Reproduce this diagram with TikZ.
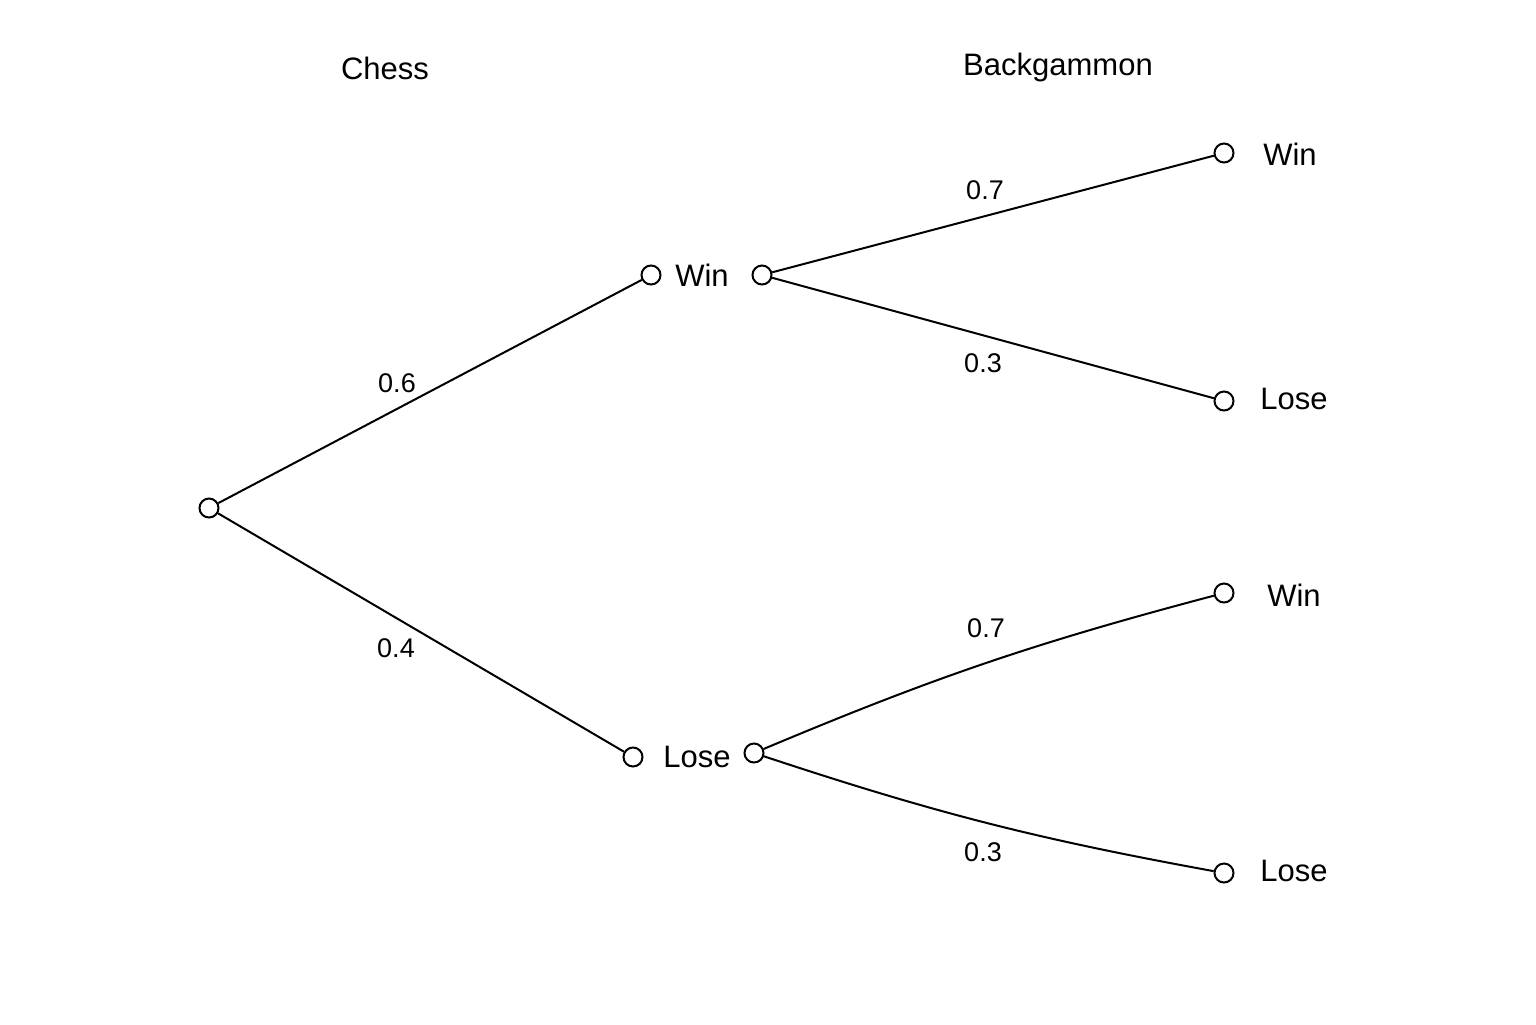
\documentclass[tikz,border=0pt]{standalone}
\usepackage{fontspec}
\setmainfont{Liberation Sans}
\begin{document}
\begin{tikzpicture}[x=0.5pt,y=0.5pt,yscale=-1,xscale=1]
	\tikzset{
		dot/.style={draw,circle,fill=white,minimum size=9.5pt,inner sep=0pt,line width=1pt},
		lbl/.style={font=\fontsize{15.5}{18}\selectfont,inner sep=0.75pt},
		prob/.style={font=\fontsize{13.5}{16}\selectfont,inner sep=0.75pt},
		br/.style={line width=1pt}
	}
	\useasboundingbox (0,0) rectangle (1536,1024);
	% headers
	\node [lbl] (hchess) at (385,68) {Chess};
	\node [lbl] (hbg) at (1058,67) {Backgammon};
	% chess stage
	\node [dot] (root) at (209,508) {};
	\node [dot] (cw) at (651,275) {};
	\node [dot] (cl) at (633,757) {};
	\node [lbl] (cwl) at (702,275) {Win};
	\node [lbl] (cll) at (697,757) {Lose};
	% backgammon stage
	\node [dot] (bw) at (762,275) {};
	\node [dot] (bl) at (754,753) {};
	\node [dot] (ww) at (1224,153) {};
	\node [dot] (wl) at (1224,401) {};
	\node [dot] (lw) at (1224,593) {};
	\node [dot] (ll) at (1224,873) {};
	\node [lbl] (wwl) at (1290,154) {Win};
	\node [lbl] (wll) at (1294,399) {Lose};
	\node [lbl] (lwl) at (1294,595) {Win};
	\node [lbl] (lll) at (1294,871) {Lose};
	% branches
	\draw [br] (root) -- (cw);
	\draw [br] (root) -- (cl);
	\draw [br] (bw) -- (ww);
	\draw [br] (bw) -- (wl);
	\draw [br] (bl) to[bend right=4] (lw);
	\draw [br] (bl) to[bend left=4] (ll);
	% probabilities
	\node [prob] (p1) at (397,383) {0.6};
	\node [prob] (p2) at (396,648) {0.4};
	\node [prob] (p3) at (985,190) {0.7};
	\node [prob] (p4) at (983,363) {0.3};
	\node [prob] (p5) at (986,628) {0.7};
	\node [prob] (p6) at (983,852) {0.3};
\end{tikzpicture}
\end{document}
